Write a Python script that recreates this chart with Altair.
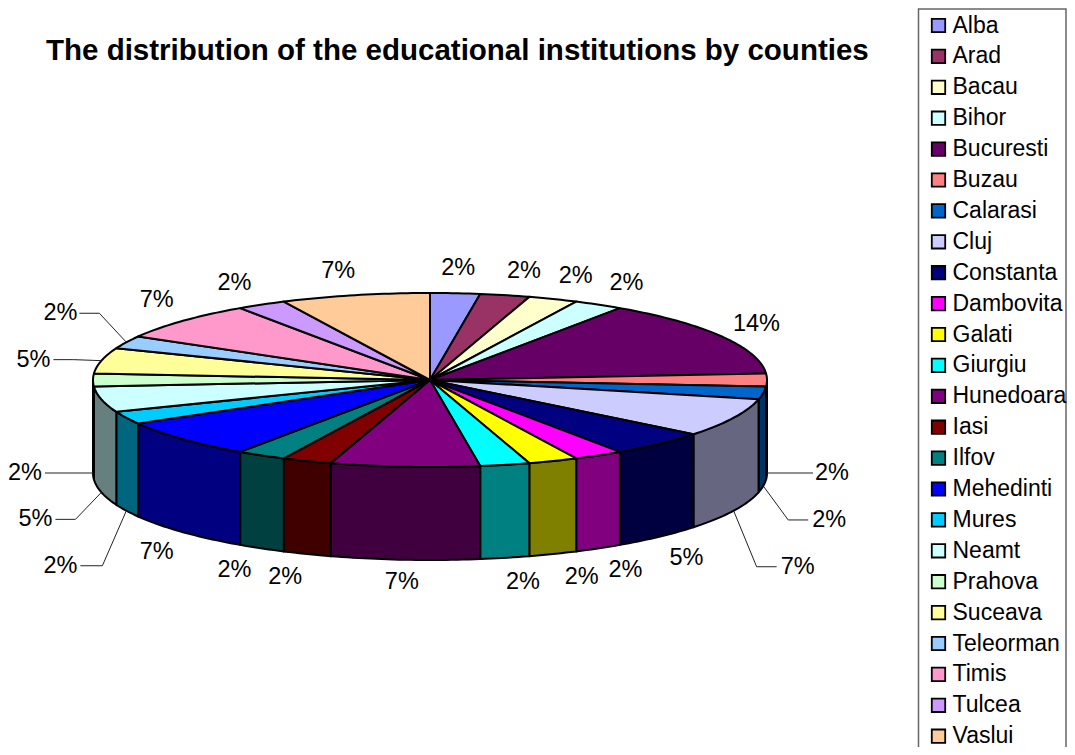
import math
import altair as alt

# ---- values ----
names = ["Alba", "Arad", "Bacau", "Bihor", "Bucuresti", "Buzau", "Calarasi", "Cluj",
         "Constanta", "Dambovita", "Galati", "Giurgiu", "Hunedoara", "Iasi", "Ilfov",
         "Mehedinti", "Mures", "Neamt", "Prahova", "Suceava", "Teleorman", "Timis",
         "Tulcea", "Vaslui"]
counts = [1, 1, 1, 1, 6, 1, 1, 3, 2, 1, 1, 1, 3, 1, 1, 3, 1, 2, 1, 2, 1, 3, 1, 3]
colors = ["#9999FF", "#993366", "#FFFFCC", "#CCFFFF", "#660066", "#FF8080", "#0066CC",
          "#CCCCFF", "#000080", "#FF00FF", "#FFFF00", "#00FFFF", "#800080", "#800000",
          "#008080", "#0000FF", "#00CCFF", "#CCFFFF", "#CCFFCC", "#FFFF99", "#99CCFF",
          "#FF99CC", "#CC99FF", "#FFCC99"]
title = "The distribution of the educational institutions by counties"

# ---- layout (plot coordinates = picture coordinates minus the 8px page margin) ----
CX, CY, RX, RY, DEPTH = 422, 372, 337, 87, 93
FONT = "Liberation Sans"
LABEL_RX, LABEL_RY = 377, 112
label_dx = {"Arad": 10, "Bacau": 8, "Bihor": 8, "Dambovita": 7, "Galati": 14, "Giurgiu": 9,
            "Iasi": -7, "Ilfov": -7, "Vaslui": -8, "Tulcea": -7, "Timis": 3, "Mehedinti": 3}
label_dy = {"Timis": -4, "Mehedinti": 3, "Constanta": 3, "Hunedoara": -3}
# elbow dx, elbow dy, line end dx, label dx -- relative to the slice's rim point
callouts = {"Buzau": (0, 0, 46, 65), "Calarasi": (25, 34, 45, 66), "Cluj": (23, 56, 43, 64),
            "Mures": (-24, 55, -46, -66), "Neamt": (-26, 27, -46, -66), "Prahova": (0, 0, -48, -68),
            "Suceava": (-28, -1, -48, -68), "Teleorman": (-27, -29, -47, -66)}
FRAME = [[910.5, 760], [910.5, 1], [1058, 1], [1058, 760]]
PROJ = dict(type="identity", scale=1, translate=[0, 0])


def pt(deg, dy=0.0, rx=RX, ry=RY):
    a = math.radians(deg)
    return [CX + rx * math.sin(a), CY - ry * math.cos(a) + dy]


def arc(a0, a1, dy=0.0):
    n = max(2, int(abs(a1 - a0) / 1.0) + 1)
    return [pt(a0 + (a1 - a0) * i / n, dy) for i in range(n + 1)]


def darker(hex_color):
    v = [int(hex_color[i:i + 2], 16) // 2 + (int(hex_color[i:i + 2], 16) & 1) for i in (1, 3, 5)]
    return "#%02X%02X%02X" % tuple(v)


def feature(geom_type, coords, **props):
    return {"type": "Feature", "geometry": {"type": geom_type, "coordinates": coords},
            "properties": props}


total = sum(counts)
tops, walls, leaders, labels = [], [], [], []
cum = 0
for name, count, color in zip(names, counts, colors):
    a0, a1 = cum / total * 360, (cum + count) / total * 360
    mid = (a0 + a1) / 2
    cum += count
    tops.append(feature("Polygon", [[[CX, CY]] + arc(a0, a1) + [[CX, CY]]], name=name))
    w0, w1 = max(a0, 90), min(a1, 270)
    if w1 > w0:
        ring = arc(w0, w1) + arc(w1, w0, DEPTH)
        walls.append(feature("Polygon", [ring + [ring[0]]], c=darker(color)))
    front = 90 <= mid <= 270
    text = "%d%%" % round(100 * count / total)
    if name in callouts:
        ex, ey, lx, tx = callouts[name]
        p = pt(mid, DEPTH if front or abs(mid - 270) < 1 else 0)
        leaders.append(feature("LineString", [p, [p[0] + ex, p[1] + ey], [p[0] + lx, p[1] + ey]]))
        labels.append({"t": text, "lon": p[0] + tx, "lat": p[1] + ey})
    else:
        p = pt(mid, DEPTH if front else 0, LABEL_RX, LABEL_RY)
        labels.append({"t": text, "lon": p[0] + label_dx.get(name, 0),
                       "lat": p[1] + label_dy.get(name, 0)})

wall_layer = alt.Chart(alt.Data(values=walls)).mark_geoshape(
    filled=True, stroke="black", strokeWidth=2, strokeJoin="round"
).encode(fill=alt.Fill("properties.c:N", scale=None, legend=None)).project(**PROJ)

top_layer = alt.Chart(alt.Data(values=tops)).mark_geoshape(
    filled=True, stroke="black", strokeWidth=2, strokeJoin="round"
).encode(
    color=alt.Color(
        "properties.name:N",
        scale=alt.Scale(domain=names, range=colors),
        sort=names,
        legend=alt.Legend(
            title=None, orient="none", legendX=919, legendY=6, padding=0,
            symbolType="square", symbolSize=180, symbolStrokeColor="black",
            symbolStrokeWidth=1.8, symbolOpacity=1, labelFont=FONT, labelFontSize=23,
            labelColor="black", labelLimit=200, labelOffset=2.5, rowPadding=6.9,
            values=names,
        ),
    )
).project(**PROJ)

leader_layer = alt.Chart(alt.Data(values=leaders)).mark_geoshape(
    filled=False, stroke="#222222", strokeWidth=1
).project(**PROJ)

frame_layer = alt.Chart(alt.Data(values=[feature("LineString", FRAME)])).mark_geoshape(
    filled=False, stroke="#666666", strokeWidth=1.5
).project(**PROJ)

text_layer = alt.Chart(alt.Data(values=labels)).mark_text(
    font=FONT, fontSize=23.5, color="black", align="center", baseline="middle"
).encode(longitude="lon:Q", latitude="lat:Q", text="t:N").project(**PROJ)

chart = alt.layer(frame_layer, wall_layer, top_layer, leader_layer, text_layer).properties(
    width=1059, height=739, padding=0, autosize=alt.AutoSizeParams(type="none"),
    title=alt.TitleParams(text=title, font=FONT, fontSize=29.5, fontWeight="bold", color="black",
                          anchor="start", frame="group", dx=38, dy=58, offset=0),
).configure_view(stroke=None)

chart.save("out.html", embed_options={"renderer": "svg", "actions": False})
